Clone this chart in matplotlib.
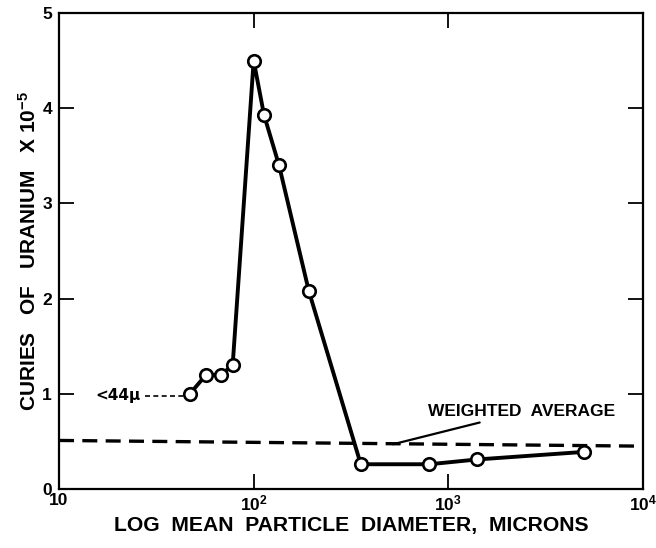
import matplotlib
matplotlib.use("Agg")
import matplotlib.pyplot as plt

# Data
diam = [47, 57, 68, 78, 100, 113, 135, 192, 355, 800, 1400, 5000]
curies = [1.0, 1.2, 1.2, 1.3, 4.5, 3.93, 3.4, 2.08, 0.26, 0.26, 0.31, 0.39]
avg_x = [10, 10000]
avg_y = [0.51, 0.45]
lt44_x = [27.5, 45]
lt44_y = [0.98, 0.98]

xticks = [10, 100, 1000, 10000]
xticklabels = ["10", "10$^{2}$", "10$^{3}$", "10$^{4}$"]
yticks = [0, 1, 2, 3, 4, 5]

plt.rcParams['font.family'] = ['Liberation Sans', 'DejaVu Sans']
plt.rcParams['mathtext.fontset'] = 'custom'
plt.rcParams['mathtext.rm'] = 'Liberation Sans:bold'
plt.rcParams['mathtext.it'] = 'Liberation Sans:bold'

fig = plt.figure(figsize=(6.56, 5.48), dpi=100)
ax = fig.add_axes([59/656, 59/548, (643-59)/656, (489-13)/548])

ax.plot(avg_x, avg_y, color='black', lw=2.4, dashes=(4.5, 2.5), zorder=2)
ax.plot(lt44_x, lt44_y, color='black', lw=1.2, dashes=(3, 2), zorder=2)
ax.plot(diam, curies, color='black', lw=2.8, marker='o', markersize=9,
        markerfacecolor='white', markeredgecolor='black', markeredgewidth=1.9, zorder=3)

ax.set_xscale('log')
ax.set_xlim(10, 10000)
ax.set_ylim(0, 5)
ax.set_xticks(xticks)
ax.set_xticklabels(xticklabels)
ax.set_yticks(yticks)
ax.minorticks_off()
ax.tick_params(axis='both', direction='in', length=11, width=1.3,
               top=True, right=True, labelsize=12.5)
ax.tick_params(axis='y', pad=5)
ax.tick_params(axis='x', pad=3)
for lab in ax.get_yticklabels() + ax.get_xticklabels():
    lab.set_fontweight('bold')
for s in ax.spines.values():
    s.set_linewidth(1.6)

ax.set_xlabel("LOG  MEAN  PARTICLE  DIAMETER,  MICRONS", fontsize=15.2,
              fontweight='bold', labelpad=2)
ax.set_ylabel("CURIES   OF   URANIUM   X 10$^{-5}$", fontsize=15,
              fontweight='bold', labelpad=2)

ax.text(15.3, 0.98, "<44\u03bc", fontsize=11, fontweight='bold', va='center', ha='left',
        family=['DejaVu Sans'])
ax.annotate("WEIGHTED  AVERAGE", xy=(520, 0.47), xytext=(790, 0.81),
            fontsize=12.5, fontweight='bold', va='center', ha='left',
            arrowprops=dict(arrowstyle='-', color='black', lw=1.6,
                            shrinkA=1, shrinkB=0))

fig.savefig("out.png", dpi=100)
